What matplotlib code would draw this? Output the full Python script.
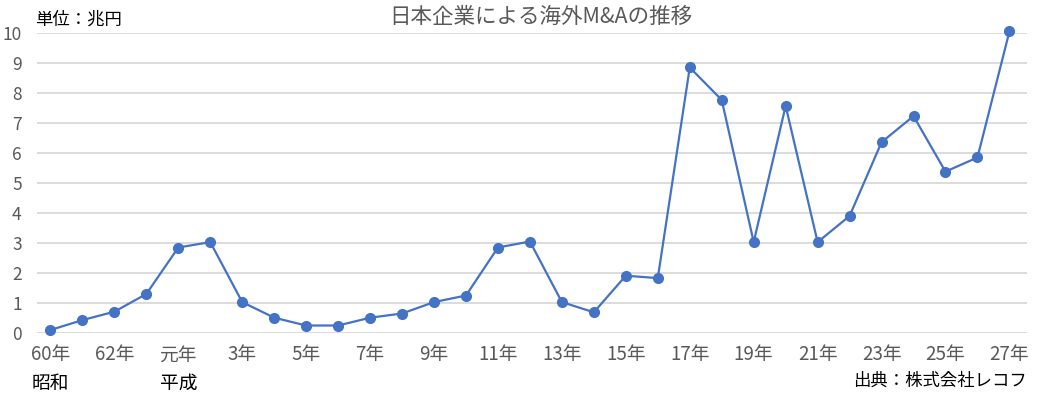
import matplotlib
matplotlib.use("Agg")
import matplotlib.pyplot as plt
import matplotlib.transforms as mtransforms

plt.rcParams['font.family'] = ['Noto Sans CJK JP', 'DejaVu Sans']

years = ["60年", "61年", "62年", "63年", "元年", "2年", "3年", "4年", "5年", "6年",
         "7年", "8年", "9年", "10年", "11年", "12年", "13年", "14年", "15年", "16年",
         "17年", "18年", "19年", "20年", "21年", "22年", "23年", "24年", "25年", "26年", "27年"]
values = [0.11, 0.44, 0.72, 1.31, 2.86, 3.04, 1.04, 0.52, 0.26, 0.26,
          0.52, 0.66, 1.04, 1.26, 2.86, 3.06, 1.04, 0.70, 1.92, 1.84,
          8.86, 7.78, 3.04, 7.58, 3.04, 3.91, 6.37, 7.24, 5.39, 5.86, 10.06]
era_labels = {0: "昭和", 4: "平成"}
yticks = list(range(0, 11))

title = "日本企業による海外M&Aの推移"
unit_label = "単位：兆円"
source_label = "出典：株式会社レコフ"

fig = plt.figure(figsize=(10.37, 3.95), dpi=100)
ax = fig.add_axes([37/1037, (395-333.3)/395, (1027-37)/1037, 300/395])

x = list(range(len(values)))
ax.plot(x, values, color="#4472C4", lw=1.6, marker="o", markersize=7,
        markerfacecolor="#4472C4", markeredgecolor="#4472C4", clip_on=False, zorder=3)

ax.set_ylim(0, 10)
ax.set_xlim(-0.42, 30.55)
ax.set_yticks(yticks)
ax.set_yticklabels([str(v) for v in yticks], fontsize=12.5, color="#595959")
tick_idx = list(range(0, len(years), 2))
ax.set_xticks(tick_idx)
ax.set_xticklabels([years[i] for i in tick_idx], fontsize=13.5, color="#595959")
ax.tick_params(axis="both", length=0)
ax.tick_params(axis="x", pad=8)
ax.tick_params(axis="y", pad=11)
ax.grid(axis="y", color="#D9D9D9", lw=1.3)
ax.set_axisbelow(True)
for s in ax.spines.values():
    s.set_visible(False)

trans = mtransforms.blended_transform_factory(ax.transData, fig.transFigure)
for i, lab in era_labels.items():
    ax.text(i, (395-383)/395, lab, transform=trans, ha="center", va="center",
            fontsize=13.5, color="black")

fig.text(1027/1037, (395-381)/395, source_label, ha="right", va="center",
         fontsize=12.5, color="black")
fig.text(35/1037, (395-20)/395, unit_label, ha="left", va="center",
         fontsize=12.5, color="black")
fig.text(541/1037, (395-17)/395, title, ha="center", va="center",
         fontsize=15.5, color="#595959")

fig.savefig("out.png", dpi=100)
